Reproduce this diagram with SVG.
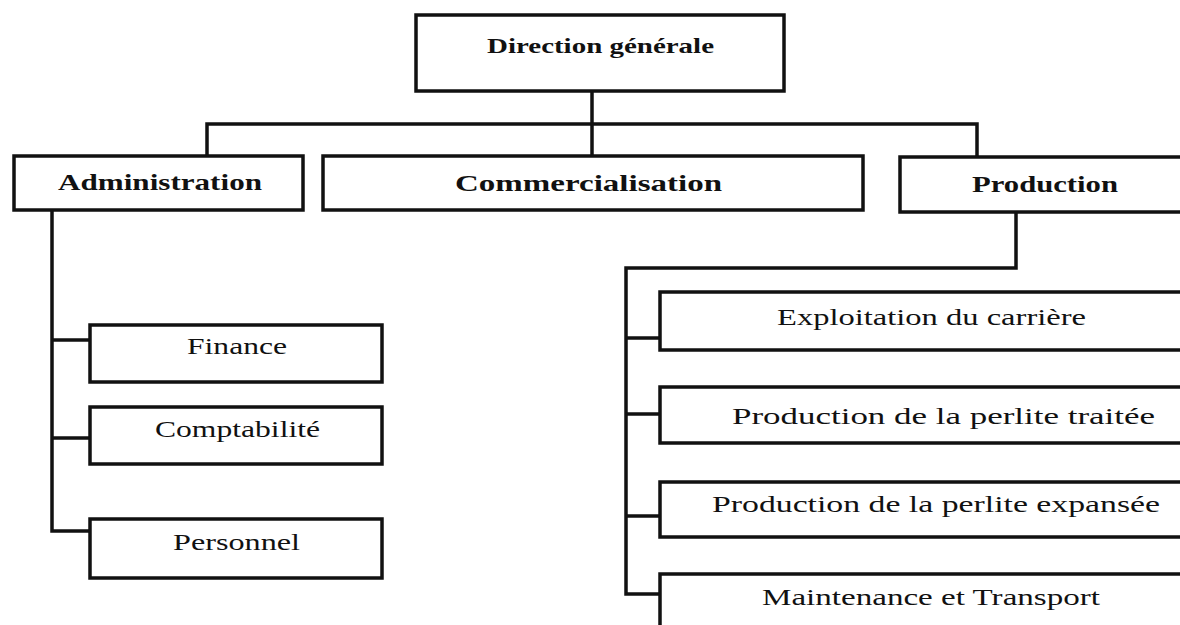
<svg xmlns="http://www.w3.org/2000/svg" width="1180" height="625" viewBox="0 0 1180 625">
<style>
.box{fill:#fff;stroke:#111;stroke-width:3.5}
.ln{fill:none;stroke:#111;stroke-width:3.5;stroke-linejoin:miter}
.t{font-family:"Liberation Serif","DejaVu Serif",serif;fill:#111;text-anchor:start}
.b{font-weight:bold}
</style>
<rect width="1180" height="625" fill="#fff"/>
<g id="connectors">
<path class="ln" d="M592 91 V157"/>
<path class="ln" d="M207 157 V124 H977 V158"/>
<path class="ln" d="M52 211 V531 H90"/>
<path class="ln" d="M52 340 H90"/>
<path class="ln" d="M52 438 H90"/>
<path class="ln" d="M1016 212 V268 H626 V594 H660"/>
<path class="ln" d="M626 338 H660"/>
<path class="ln" d="M626 414 H660"/>
<path class="ln" d="M626 516 H660"/>
</g>
<g id="direction">
<rect class="box" x="416" y="15" width="368" height="76"/>
<text class="t b" x="487" y="53" font-size="22" textLength="227" lengthAdjust="spacingAndGlyphs">Direction générale</text>
</g>
<g id="administration">
<rect class="box" x="14" y="156" width="289" height="54"/>
<text class="t b" x="58" y="190" font-size="23" textLength="204" lengthAdjust="spacingAndGlyphs">Administration</text>
</g>
<g id="commercialisation">
<rect class="box" x="323" y="156" width="540" height="54"/>
<text class="t b" x="455" y="191" font-size="23" textLength="267" lengthAdjust="spacingAndGlyphs">Commercialisation</text>
</g>
<g id="production">
<rect class="box" x="900" y="157" width="300" height="55"/>
<text class="t b" x="972" y="192" font-size="23" textLength="146" lengthAdjust="spacingAndGlyphs">Production</text>
</g>
<g id="finance">
<rect class="box" x="90" y="325" width="292" height="57"/>
<text class="t" x="187" y="354" font-size="24" textLength="100" lengthAdjust="spacingAndGlyphs">Finance</text>
</g>
<g id="comptabilite">
<rect class="box" x="90" y="407" width="292" height="57"/>
<text class="t" x="155" y="437" font-size="24" textLength="165" lengthAdjust="spacingAndGlyphs">Comptabilité</text>
</g>
<g id="personnel">
<rect class="box" x="90" y="519" width="292" height="59"/>
<text class="t" x="173" y="550" font-size="24" textLength="127" lengthAdjust="spacingAndGlyphs">Personnel</text>
</g>
<g id="exploitation">
<rect class="box" x="660" y="292" width="540" height="58"/>
<text class="t" x="777" y="325" font-size="24" textLength="309" lengthAdjust="spacingAndGlyphs">Exploitation du carrière</text>
</g>
<g id="perlite-traitee">
<rect class="box" x="660" y="387" width="540" height="56"/>
<text class="t" x="732" y="424" font-size="24" textLength="423" lengthAdjust="spacingAndGlyphs">Production de la perlite traitée</text>
</g>
<g id="perlite-expansee">
<rect class="box" x="660" y="482" width="540" height="55"/>
<text class="t" x="712" y="512" font-size="24" textLength="448" lengthAdjust="spacingAndGlyphs">Production de la perlite expansée</text>
</g>
<g id="maintenance">
<rect class="box" x="660" y="574" width="540" height="70"/>
<text class="t" x="762" y="605" font-size="24" textLength="338" lengthAdjust="spacingAndGlyphs">Maintenance et Transport</text>
</g>
</svg>
